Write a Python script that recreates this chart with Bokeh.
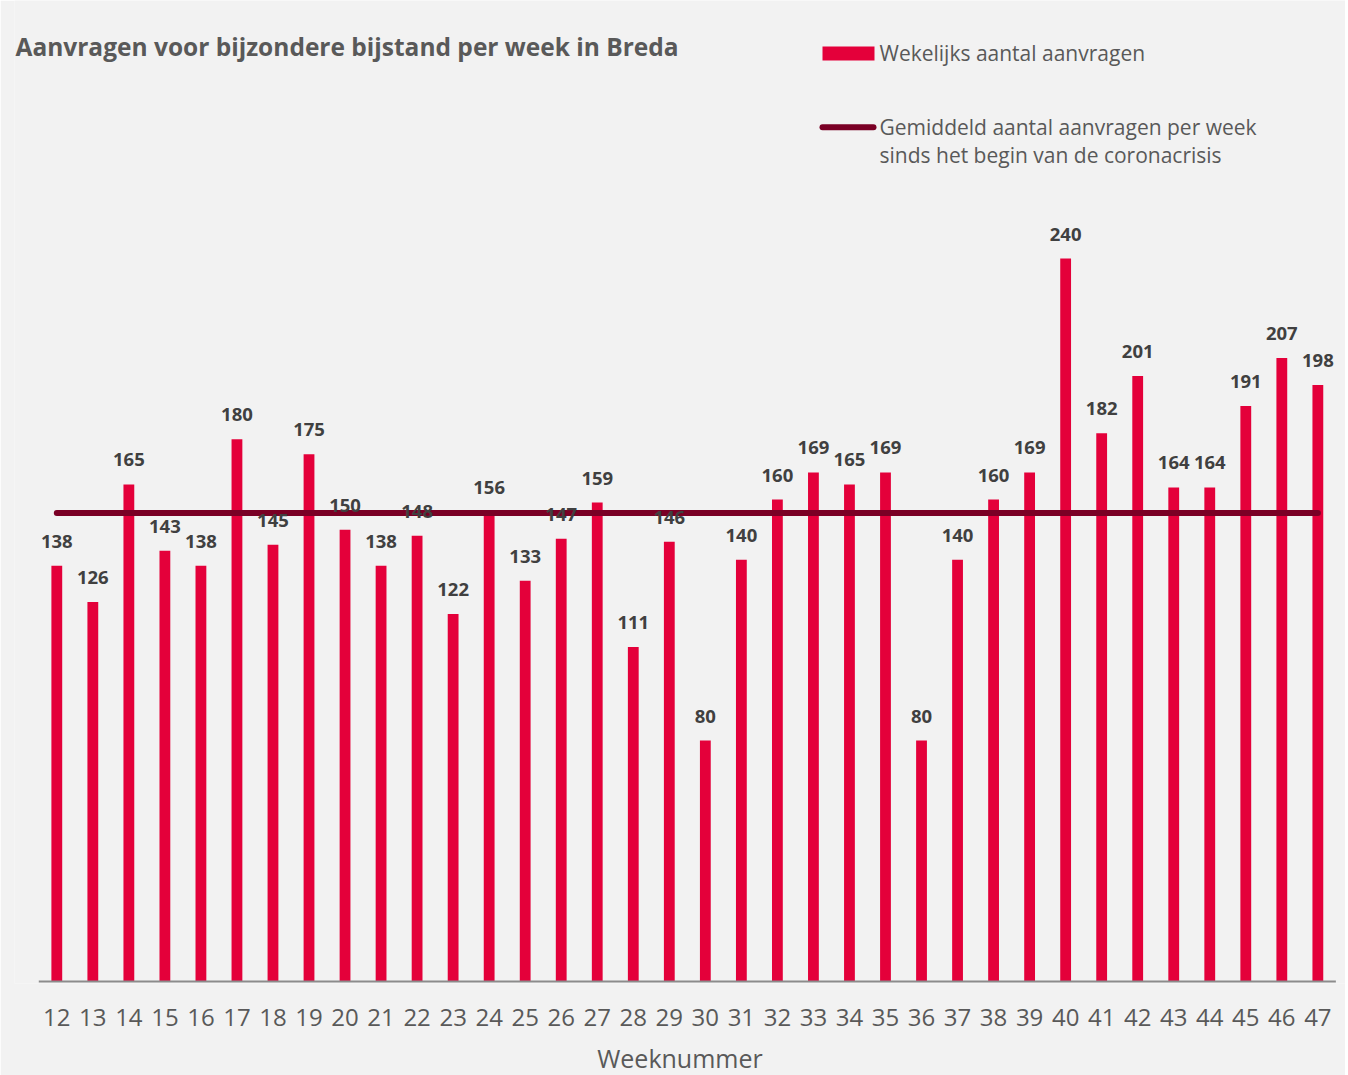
from bokeh.plotting import figure
from bokeh.models import Range1d, FixedTicker, ColumnDataSource
from bokeh.core.properties import value
from bokeh.embed import file_html
from bokeh.resources import INLINE

# ---- data ----
weeks = [12, 13, 14, 15, 16, 17, 18, 19, 20, 21, 22, 23, 24, 25, 26, 27, 28, 29,
         30, 31, 32, 33, 34, 35, 36, 37, 38, 39, 40, 41, 42, 43, 44, 45, 46, 47]
aanvragen = [138, 126, 165, 143, 138, 180, 145, 175, 150, 138, 148, 122, 156, 133,
             147, 159, 111, 146, 80, 140, 160, 169, 165, 169, 80, 140, 160, 169,
             240, 182, 201, 164, 164, 191, 207, 198]
gemiddeld = 155.5

title_text = "Aanvragen voor bijzondere bijstand per week in Breda"
legend_bar = "Wekelijks aantal aanvragen"
legend_line = ["Gemiddeld aantal aanvragen per week", "sinds het begin van de coronacrisis"]
x_title = "Weeknummer"

RED = "#e4003a"
MAROON = "#7a0025"
GREY_TXT = "#595959"
DARK_TXT = "#404040"
BG = "#f2f2f2"

# ---- layout helpers (reference-pixel -> data) ----
PX_PER_UNIT = 3.0125
BASE_Y = 981.0
X0_REF = 56.3
STEP = 36.03

FRAME_LEFT = 14
FRAME_RIGHT = 1345
FRAME_TOP = 0
FRAME_BOTTOM = 983


def xd(rx):
    return weeks[0] + (rx - X0_REF) / STEP


def yd(ry):
    return (BASE_Y - ry) / PX_PER_UNIT


p = figure(frame_width=FRAME_RIGHT - FRAME_LEFT, frame_height=FRAME_BOTTOM - FRAME_TOP,
           output_backend="svg", toolbar_location=None,
           x_range=Range1d(xd(FRAME_LEFT), xd(FRAME_RIGHT)),
           y_range=Range1d(yd(FRAME_BOTTOM), yd(FRAME_TOP)),
           y_axis_location=None,
           min_border_left=FRAME_LEFT, min_border_right=0, min_border_top=FRAME_TOP,
           min_border_bottom=1072 - FRAME_BOTTOM,
           background_fill_color=BG, border_fill_color=BG, outline_line_color=None)
p.grid.visible = False

src = ColumnDataSource(dict(
    week=weeks,
    value=aanvragen,
    label=[str(v) for v in aanvragen],
    label_y=[v + 24.5 / PX_PER_UNIT for v in aanvragen],
))

# bars
p.vbar(x="week", top="value", width=0.3, source=src, fill_color=RED, line_color=None)

# baseline
p.segment(x0=[weeks[0] - 0.5], x1=[weeks[-1] + 0.5], y0=[0], y1=[0],
          line_color="#8c8c8c", line_width=2)

# average line
p.line(x=[weeks[0], weeks[-1]], y=[gemiddeld, gemiddeld], line_color=MAROON,
       line_width=6, line_cap="round")

# data labels
p.text(x="week", y="label_y", text="label", source=src, text_align="center",
       text_baseline="alphabetic", text_font=value("Open Sans"), text_font_style="bold",
       text_font_size="18.5px", text_color=DARK_TXT)

# title
p.text(x=[xd(15)], y=[yd(45.7)], text=[title_text], text_align="left",
       text_baseline="alphabetic", text_font=value("Open Sans"), text_font_style="bold",
       text_font_size="24.5px", text_color=GREY_TXT)

# legend
p.quad(left=[xd(822)], right=[xd(874)], bottom=[yd(60)], top=[yd(46)],
       fill_color=RED, line_color=None)
p.line(x=[xd(822), xd(873)], y=[yd(126.7), yd(126.7)], line_color=MAROON,
       line_width=6, line_cap="round")
p.text(x=[xd(879)], y=[yd(52)], text=[legend_bar], text_align="left",
       text_baseline="alphabetic", text_font=value("Open Sans"),
       text_font_size="21px", text_color=GREY_TXT)
p.text(x=[xd(879), xd(879)], y=[yd(126), yd(154.5)], text=legend_line, text_align="left",
       text_baseline="alphabetic", text_font=value("Open Sans"),
       text_font_size="21px", text_color=GREY_TXT)

# x axis
ax = p.xaxis[0]
ax.ticker = FixedTicker(ticks=weeks)
ax.axis_line_color = None
ax.major_tick_line_color = None
ax.minor_tick_line_color = None
ax.major_tick_out = 0
ax.minor_tick_out = 0
ax.major_label_standoff = 25
ax.major_label_text_font = "Open Sans"
ax.major_label_text_font_size = "24px"
ax.major_label_text_color = GREY_TXT
ax.axis_label = x_title
ax.axis_label_standoff = 12
ax.axis_label_text_font = "Open Sans"
ax.axis_label_text_font_style = "normal"
ax.axis_label_text_font_size = "25px"
ax.axis_label_text_color = GREY_TXT

open("out.html", "w").write(file_html(p, INLINE))
